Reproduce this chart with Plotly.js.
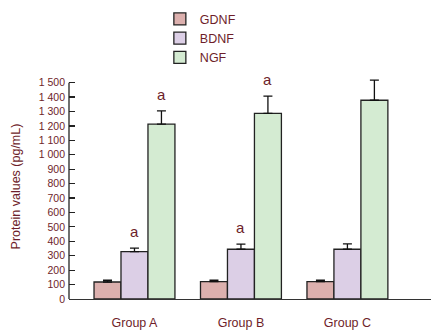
<!DOCTYPE html>
<html><head><meta charset="utf-8">
<script src="https://cdn.plot.ly/plotly-3.0.1.min.js"></script>
<style>html,body{margin:0;padding:0;background:#fff}#c{width:431px;height:331px}</style>
</head><body><div id="c"></div>
<script>
const categories = ['Group A', 'Group B', 'Group C'];
const seriesNames = ['GDNF', 'BDNF', 'NGF'];
const gdnf = [118, 120, 120];
const gdnfErr = [12, 10, 10];
const bdnf = [328, 345, 345];
const bdnfErr = [25, 35, 37];
const ngf = [1212, 1287, 1378];
const ngfErr = [92, 120, 139];
const bdnfSig = ['a', 'a', ''];
const ngfSig = ['a', 'a', ''];
const yTickVals = [0,100,200,300,400,500,600,700,800,900,1000,1100,1200,1300,1400,1500];
const yTickText = ['0','100','200','300','400','500','600','700','800','900','1 000','1 100','1 200','1 300','1 400','1 500'];

const textColor = '#6e1e2a';
const colors = ['#dcb0ae', '#dccfe6', '#d4ebd2'];
const vals = [gdnf, bdnf, ngf];
const errs = [gdnfErr, bdnfErr, ngfErr];
const xIdx = categories.map((c, i) => i);

const traces = seriesNames.map((n, k) => ({
  type: 'bar', name: n, x: xIdx, y: vals[k],
  marker: {color: colors[k], line: {color: '#222', width: 1.3}},
  error_y: {type: 'data', array: errs[k], arrayminus: errs[k].map(() => 0), symmetric: false,
            color: '#111', thickness: 1.3, width: 4.5}
}));

const barW = 0.76 / 3;
const annotations = [];
[[bdnfSig, bdnf, bdnfErr, 0], [ngfSig, ngf, ngfErr, 1]].forEach(([sig, v, e, off]) => {
  sig.forEach((s, i) => {
    if (!s) return;
    annotations.push({x: i + off * barW, y: v[i] + e[i], xref: 'x', yref: 'y', text: s,
      showarrow: false, yanchor: 'bottom', yshift: 6,
      font: {family: 'Liberation Sans, Arial', size: 15, color: textColor}});
  });
});

const layout = {
  width: 431, height: 331,
  margin: {l: 69, r: 0, t: 74, b: 32, pad: 0},
  paper_bgcolor: '#fff', plot_bgcolor: '#fff',
  font: {family: 'Liberation Sans, Arial', color: textColor},
  barmode: 'group', bargap: 0.24, bargroupgap: 0,
  showlegend: true,
  legend: {x: 0.251, xanchor: 'left', y: 1.31, yanchor: 'top', orientation: 'v',
           font: {size: 12.5, color: textColor}, bgcolor: 'rgba(0,0,0,0)', tracegroupgap: 0},
  xaxis: {range: [-0.615, 2.785], tickvals: xIdx, ticktext: categories, ticks: '',
          showline: true, linecolor: '#333', linewidth: 1.3, showgrid: false, zeroline: false,
          tickfont: {size: 12.5, color: textColor}, ticklabelstandoff: 12, fixedrange: true},
  yaxis: {range: [0, 1560], tickvals: yTickVals, ticktext: yTickText, ticks: 'inside', ticklen: 6,
          tickcolor: '#222', tickwidth: 1.2, showline: false, showgrid: false, zeroline: false,
          tickfont: {size: 10.5, color: textColor}, ticklabelstandoff: 3,
          title: {text: 'Protein values (pg/mL)', font: {size: 12.5, color: textColor}, standoff: 15}},
  shapes: [{type: 'line', xref: 'paper', yref: 'y', x0: 0, x1: 0, y0: 0, y1: 1500,
            line: {color: '#222', width: 1.3}}],
  annotations: annotations
};
Plotly.newPlot('c', traces, layout, {displayModeBar: false, staticPlot: true});
</script></body></html>
